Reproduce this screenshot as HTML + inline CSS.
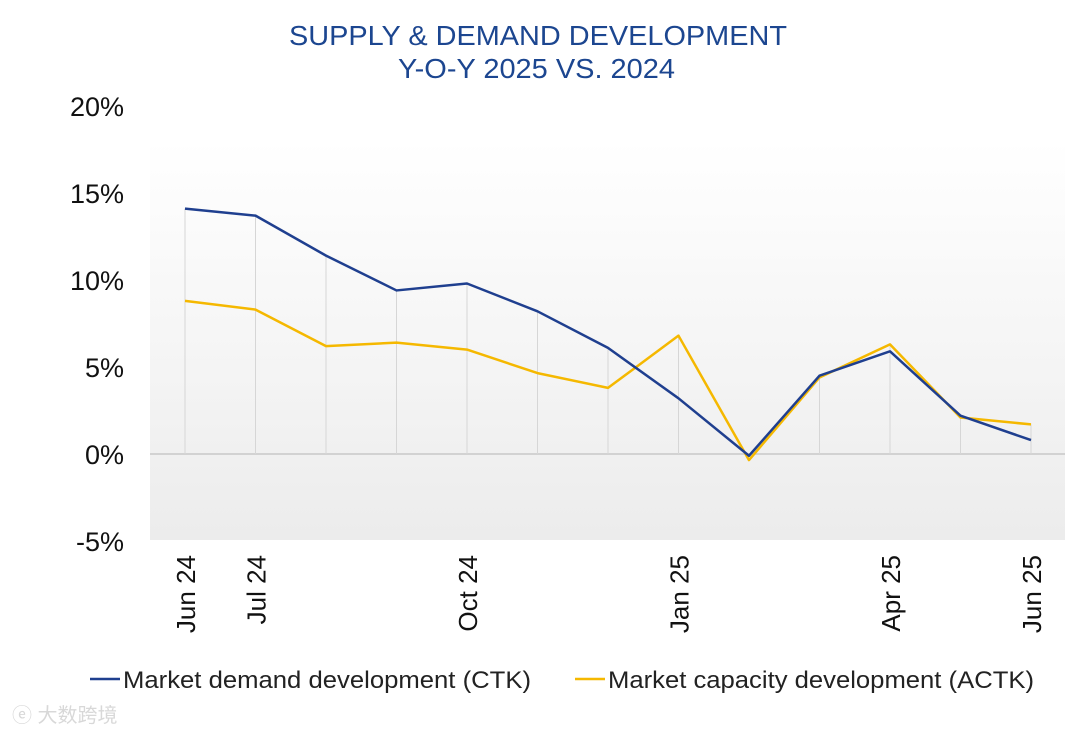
<!DOCTYPE html>
<html><head><meta charset="utf-8"><style>
body{margin:0;background:#fff;width:1080px;height:734px;overflow:hidden;font-family:"Liberation Sans",Arial,sans-serif}
</style></head><body>
<svg width="1080" height="734" xmlns="http://www.w3.org/2000/svg">
<defs><linearGradient id="bg" x1="0" y1="0" x2="0" y2="1"><stop offset="0" stop-color="#ffffff"/><stop offset="1" stop-color="#ececec"/></linearGradient></defs>
<text x="289" y="45" font-size="28" textLength="498" lengthAdjust="spacingAndGlyphs" fill="#1c4690">SUPPLY &amp; DEMAND DEVELOPMENT</text>
<text x="398" y="78" font-size="28" textLength="277" lengthAdjust="spacingAndGlyphs" fill="#1c4690">Y-O-Y 2025 VS. 2024</text>
<rect x="150" y="140" width="915" height="400" fill="url(#bg)"/>
<g id="yaxis"></g><g id="drops"></g><g id="lines"></g><g id="xaxis"></g>
<g>
<line x1="90" y1="679" x2="120" y2="679" stroke="#1f3f8f" stroke-width="2.5"/>
<text x="123" y="688" font-size="24" textLength="408" lengthAdjust="spacingAndGlyphs" fill="#222">Market demand development (CTK)</text>
<line x1="575" y1="679" x2="605" y2="679" stroke="#f5b800" stroke-width="2.5"/>
<text x="608" y="688" font-size="24" textLength="426" lengthAdjust="spacingAndGlyphs" fill="#222">Market capacity development (ACTK)</text>
</g>
<text x="12" y="722" font-size="20" fill="#d8d8d8" font-family="'Liberation Sans','Noto Sans CJK SC',sans-serif">ⓔ 大数跨境</text>
</svg>
<script>
const categories=["Jun 24","Jul 24","Aug 24","Sep 24","Oct 24","Nov 24","Dec 24","Jan 25","Feb 25","Mar 25","Apr 25","May 25","Jun 25"];
const shownLabels=["Jun 24","Jul 24","Oct 24","Jan 25","Apr 25","Jun 25"];
const demand=[14.1,13.7,11.4,9.4,9.8,8.2,6.1,3.2,-0.1,4.5,5.9,2.2,0.8];
const capacity=[8.8,8.3,6.2,6.4,6.0,4.65,3.8,6.8,-0.35,4.4,6.3,2.1,1.7];
const yTicks=[-5,0,5,10,15,20];
const NS="http://www.w3.org/2000/svg";
const X=i=>185+i*(1031-185)/(categories.length-1);
const Y=v=>454-v*17.4;
function mk(t,a,p){const e=document.createElementNS(NS,t);for(const k in a)e.setAttribute(k,a[k]);document.getElementById(p).appendChild(e);return e;}
yTicks.forEach(v=>{const t=mk('text',{x:124,y:Y(v)+10,'text-anchor':'end','font-size':27,fill:'#111'},'yaxis');t.textContent=v+'%';

});
const z=mk('line',{x1:150,x2:1065,y1:Y(0),y2:Y(0),stroke:'#c8c8c8','stroke-width':1.5},'yaxis');


categories.forEach((c,i)=>{const top=Math.max(demand[i],capacity[i]);
const d=mk('line',{x1:X(i),x2:X(i),y1:Y(top),y2:Y(0),stroke:'#d6d6d6','stroke-width':1},'drops');


if(shownLabels.includes(c)){const t=mk('text',{transform:`translate(${X(i)+10},555) rotate(-90)`,'text-anchor':'end','font-size':26,fill:'#111'},'xaxis');t.textContent=c;

}});
function line(arr,col,name){const p=mk('polyline',{points:arr.map((v,i)=>X(i)+','+Y(v)).join(' '),fill:'none',stroke:col,'stroke-width':2.5,'stroke-linejoin':'round'},'lines');

}
line(capacity,'#f5b800','capacity-line');
line(demand,'#1f3f8f','demand-line');
</script>
</body></html>
